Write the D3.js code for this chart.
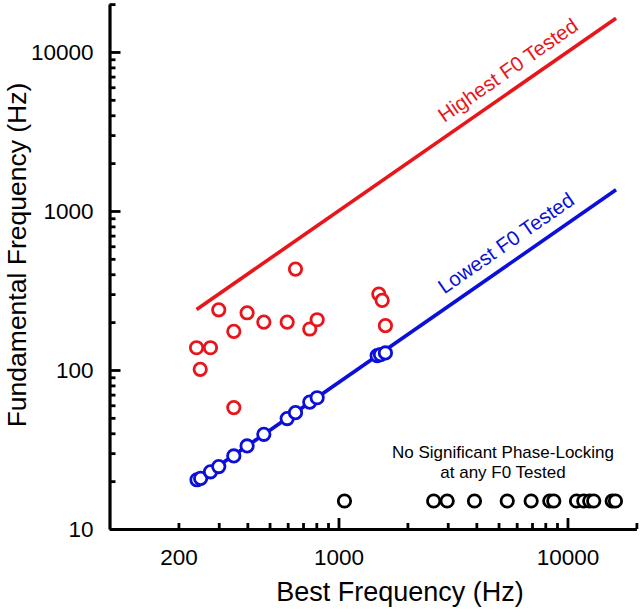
<!DOCTYPE html>
<html>
<head>
<meta charset="utf-8">
<script src="https://cdn.jsdelivr.net/npm/d3@7"></script>
<style>
  body { margin: 0; background: #fff; }
  svg { display: block; font-family: "Liberation Sans", Arial, sans-serif; }
</style>
</head>
<body>
<svg width="640" height="612"></svg>
<script>
// units with phase-locking: highest significant F0
const redBF = [240, 276, 249, 300, 349, 349, 399, 472, 597, 649, 749, 807, 1500, 1552, 1603];
const redF0 = [138, 138, 101, 239, 175, 58, 229, 200, 200, 431, 181, 207, 300, 274, 190];

// lowest significant F0
const blueBF = [241, 250, 276, 300, 349, 399, 472, 597, 649, 749, 807, 1476, 1525, 1603];
const blueF0 = [20.4, 20.8, 22.9, 24.7, 28.8, 33.3, 39.4, 49.5, 53.9, 62.8, 66.9, 123, 125, 128];

// no significant phase-locking
const blackBF = [1062, 2604, 2983, 3925, 5457, 6941, 8370, 8713, 10950, 11780, 12510, 13020, 15680, 16200];
const blackF0 = [15, 15, 15, 15, 15, 15, 15, 15, 15, 15, 15, 15, 15, 15];

// limits of F0 range tested
const highestBF = [240, 16300];
const highestF0 = [240, 16300];
const lowestBF = [235, 16300];
const lowestF0 = [19.6, 1358];

const xMajor = [1000, 10000];
const xMinor = [200, 300, 400, 500, 600, 700, 800, 900, 2000, 3000, 4000, 5000, 6000, 7000, 8000, 9000, 20000];
const xLabels = [200, 1000, 10000];
const yMajor = [10, 100, 1000, 10000];
const yMinor = [20, 30, 40, 50, 60, 70, 80, 90, 200, 300, 400, 500, 600, 700, 800, 900,
                2000, 3000, 4000, 5000, 6000, 7000, 8000, 9000, 20000];

const svg = d3.select("svg");
const red = "#e8161b", blue = "#0b0fd9";

const x = d3.scaleLog().domain([100, 20000]).range([109.5, 636.4]);
const y = d3.scaleLog().domain([10, 20000]).range([529, 4.1]);

// axes
const xAxis = d3.axisBottom(x)
    .tickValues(xMajor.concat(xMinor))
    .tickSizeOuter(0)
    .tickPadding(14)
    .tickFormat(d => xLabels.includes(d) ? d : "");
const gx = svg.append("g").attr("transform", `translate(0,${y(10)})`).call(xAxis);
gx.selectAll(".tick line").attr("y2", d => xMajor.includes(d) ? -11 : -6);

const yAxis = d3.axisLeft(y)
    .tickValues(yMajor.concat(yMinor))
    .tickSizeOuter(0)
    .tickPadding(10)
    .tickFormat(d => yMajor.includes(d) ? d : "");
const gy = svg.append("g").attr("transform", `translate(${x(100)},0)`).call(yAxis);
gy.selectAll(".tick line").attr("x2", d => yMajor.includes(d) ? 11 : 6);

svg.selectAll(".domain").attr("stroke", "#000").attr("stroke-width", 3.2);
svg.selectAll(".tick line").attr("stroke", "#000").attr("stroke-width", 2.8);
svg.selectAll(".tick text").attr("font-size", 22.5).attr("fill", "#000")
    .attr("font-family", "Liberation Sans, Arial, sans-serif");

// F0 range lines
const line = d3.line().x(d => x(d[0])).y(d => y(d[1]));
svg.append("path")
    .attr("d", line(d3.zip(highestBF, highestF0)))
    .attr("fill", "none").attr("stroke", red).attr("stroke-width", 3.6);
svg.append("path")
    .attr("d", line(d3.zip(lowestBF, lowestF0)))
    .attr("fill", "none").attr("stroke", blue).attr("stroke-width", 3.6);

// text running along a line, placed at best frequency "at"
function lineLabel(bfs, f0s, at, text, color) {
    const x0 = x(bfs[0]), x1 = x(bfs[1]), y0 = y(f0s[0]), y1 = y(f0s[1]);
    const t = (x(at) - x0) / (x1 - x0);
    const ang = Math.atan2(y1 - y0, x1 - x0) * 180 / Math.PI;
    svg.append("text")
        .attr("transform", `translate(${x(at)},${y0 + t * (y1 - y0)}) rotate(${ang})`)
        .attr("y", -12)
        .attr("font-size", 20.5)
        .attr("fill", color)
        .text(text);
}
lineLabel(highestBF, highestF0, 3100, "Highest F0 Tested", red);
lineLabel(lowestBF, lowestF0, 3100, "Lowest F0 Tested", blue);

// points
function dots(bfs, f0s, color) {
    svg.append("g").selectAll("circle")
        .data(d3.zip(bfs, f0s))
        .join("circle")
        .attr("cx", d => x(d[0]))
        .attr("cy", d => y(d[1]))
        .attr("r", 6.2)
        .attr("fill", "#fff")
        .attr("stroke", color)
        .attr("stroke-width", 2.8);
}
dots(redBF, redF0, red);
dots(blueBF, blueF0, blue);
dots(blackBF, blackF0, "#000");

// note for units without phase-locking
svg.append("text")
    .attr("x", 503).attr("y", 458)
    .attr("text-anchor", "middle").attr("font-size", 17)
    .text("No Significant Phase-Locking");
svg.append("text")
    .attr("x", 503).attr("y", 478)
    .attr("text-anchor", "middle").attr("font-size", 17)
    .text("at any F0 Tested");

// axis titles
svg.append("text")
    .attr("x", 400).attr("y", 601)
    .attr("text-anchor", "middle").attr("font-size", 27)
    .text("Best Frequency (Hz)");
svg.append("text")
    .attr("transform", "translate(26,255) rotate(-90)")
    .attr("text-anchor", "middle").attr("font-size", 26.5)
    .text("Fundamental Frequency (Hz)");
</script>
</body>
</html>
